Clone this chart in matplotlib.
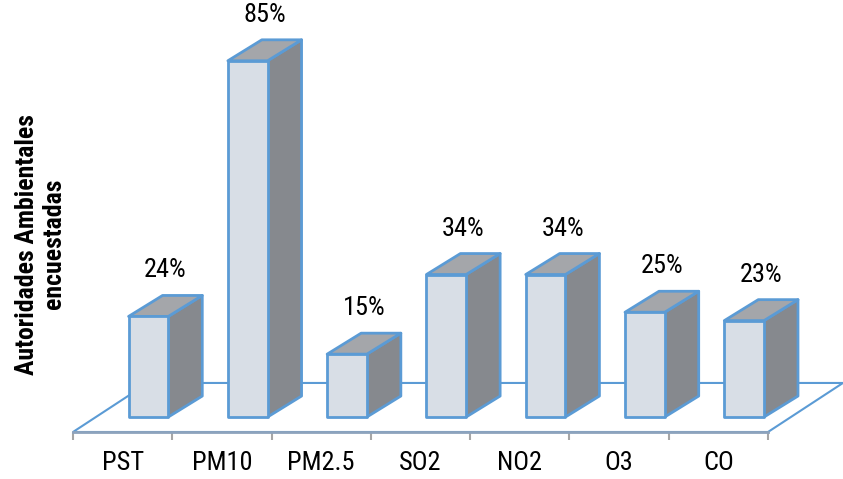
import numpy as np
import matplotlib.pyplot as plt
from matplotlib.patches import Polygon

# Datos
categorias = ['PST', 'PM10', 'PM2.5', 'SO2', 'NO2', 'O3', 'CO']
porcentajes = [24, 85, 15, 34, 34, 25, 23]
titulo_y = 'Autoridades Ambientales\nencuestadas'

fuente = ['Roboto Condensed', 'DejaVu Sans']

# Colores estilo Excel 3D
c_frente = '#D8DEE6'
c_lado = '#86898E'
c_tapa = '#A4A6AA'
c_borde = '#5B9BD5'

# Perspectiva (en unidades de datos)
piso_dx, piso_dy = 0.755, 11.7     # profundidad del piso
barra_dx, barra_dy = 0.342, 5.0    # profundidad de cada barra
ancho = 0.40
desplaz = 0.06                     # borde izquierdo de la cara frontal
y_piso = -3.58

fig = plt.figure(figsize=(8.43, 4.79), dpi=100)
ax = fig.add_axes([73 / 843, 47 / 479, 695 / 843, 432 / 479])
n = len(categorias)
ax.set_xlim(-0.5, n - 0.5)
ax.set_ylim(y_piso, 99.5)

# piso
x0, x1 = -0.5, n - 0.5
piso = Polygon([(x0, y_piso), (x1, y_piso), (x1 + piso_dx, y_piso + piso_dy),
                (x0 + piso_dx, y_piso + piso_dy)], closed=True,
               facecolor='white', edgecolor=c_borde, lw=1.5, clip_on=False, zorder=1)
ax.add_patch(piso)

# barras 3D
for i, v in enumerate(porcentajes):
    xl = i + desplaz
    xr = xl + ancho
    frente = Polygon([(xl, 0), (xr, 0), (xr, v), (xl, v)], closed=True,
                     facecolor=c_frente, edgecolor=c_borde, lw=2, joinstyle='round', zorder=3)
    lado = Polygon([(xr, 0), (xr + barra_dx, barra_dy), (xr + barra_dx, v + barra_dy), (xr, v)],
                   closed=True, facecolor=c_lado, edgecolor=c_borde, lw=2, joinstyle='round', zorder=3)
    tapa = Polygon([(xl, v), (xr, v), (xr + barra_dx, v + barra_dy), (xl + barra_dx, v + barra_dy)],
                   closed=True, facecolor=c_tapa, edgecolor=c_borde, lw=2, joinstyle='round', zorder=3)
    for p in (lado, tapa, frente):
        p.set_clip_on(False)
        ax.add_patch(p)
    ax.annotate(f'{v}%', (xl + (ancho + barra_dx) / 2, v + barra_dy), xytext=(0, 18),
                textcoords='offset points', ha='center', va='center',
                fontsize=19, family=fuente, color='black', zorder=5)

# ejes
for s in ['top', 'right', 'left']:
    ax.spines[s].set_visible(False)
ax.spines['bottom'].set_color('#8DA3BD')
ax.spines['bottom'].set_linewidth(2)
ax.spines['bottom'].set_zorder(2)
ax.set_yticks([])
ax.set_xticks(np.arange(-0.5, n), labels=[''] * (n + 1))
ax.set_xticks(np.arange(n), labels=categorias, minor=True)
ax.tick_params(axis='x', which='major', length=6, width=1.5, color='#A6A6A6')
ax.tick_params(axis='x', which='minor', length=0, pad=14)
for t in ax.get_xticklabels(minor=True):
    t.set_fontsize(19)
    t.set_family(fuente)
ax.patch.set_visible(False)

fig.text(0.048, 0.49, titulo_y, rotation=90, ha='center', va='center',
         multialignment='center', fontsize=18.5, fontweight='bold', family=fuente,
         linespacing=1.15)

fig.savefig('out.png', dpi=100)
